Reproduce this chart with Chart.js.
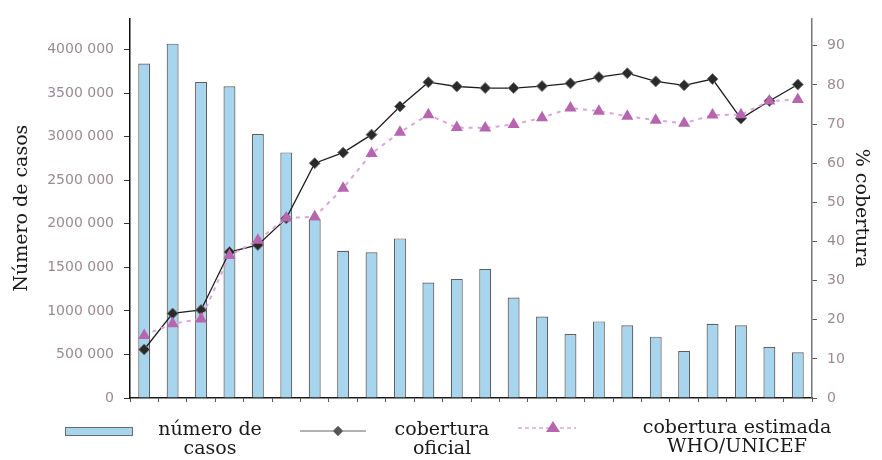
<!DOCTYPE html>
<html>
<head>
<meta charset="utf-8">
<script src="https://cdn.jsdelivr.net/npm/chart.js@4/dist/chart.umd.min.js"></script>
<style>
    body { margin: 0; background: #fff; }
    #wrap { position: relative; width: 882px; height: 460px; }
    .lg-text {
        position: absolute;
        font-family: "DejaVu Serif", serif;
        font-size: 19px;
        line-height: 19px;
        color: #1a1a1a;
        text-align: center;
    }
    .lg-swatch { position: absolute; }
</style>
</head>
<body>
<div id="wrap">
    <canvas id="chart" width="882" height="460"></canvas>

    <div class="lg-swatch" style="left:65px; top:427px; width:66px; height:7px; background:#a8d5ee; border:1px solid #6a6a6a;"></div>
    <div class="lg-text" style="left:135px; top:419px; width:150px;">número de<br>casos</div>

    <svg class="lg-swatch" style="left:298px; top:423px;" width="70" height="16">
        <line x1="2" y1="8" x2="68" y2="8" stroke="#666" stroke-width="1.2"/>
        <polygon points="40,3 45,8 40,13 35,8" fill="#555" stroke="#888" stroke-width="0.8"/>
    </svg>
    <div class="lg-text" style="left:367px; top:419px; width:150px;">cobertura<br>oficial</div>

    <svg class="lg-swatch" style="left:516px; top:419px;" width="62" height="16">
        <line x1="2" y1="9" x2="60" y2="9" stroke="#dca6d6" stroke-width="1.5" stroke-dasharray="4,3"/>
        <polygon points="37,2 44,13 30,13" fill="#b665ae"/>
    </svg>
    <div class="lg-text" style="left:627px; top:417px; width:220px;">cobertura estimada<br>WHO/UNICEF</div>
</div>

<script>
// years 1980 - 2003 (labels not shown in the figure)
const years = ['1980', '1981', '1982', '1983', '1984', '1985', '1986', '1987', '1988', '1989', '1990', '1991',
               '1992', '1993', '1994', '1995', '1996', '1997', '1998', '1999', '2000', '2001', '2002', '2003'];

// número de casos
const casos = [3840000, 4067000, 3628000, 3579000, 3031000, 2819000, 2050000, 1690000, 1672000, 1832000, 1326000, 1367000,
               1482000, 1154000, 935000, 734000, 879000, 834000, 704000, 540000, 853000, 834000, 584000, 525000];

// cobertura oficial (%)
const coberturaOficial = [12.4, 21.6, 22.5, 37.3, 39.1, 45.9, 60.0, 62.7, 67.3, 74.5, 80.7, 79.6,
                          79.2, 79.2, 79.7, 80.4, 82.0, 83.0, 80.9, 79.9, 81.5, 71.4, 75.9, 80.1];

// cobertura estimada WHO/UNICEF (%)
const coberturaEstimada = [16.0, 19.0, 20.2, 36.4, 40.3, 46.0, 46.3, 53.6, 62.5, 67.9, 72.4, 69.1,
                           69.0, 69.9, 71.6, 74.1, 73.3, 72.0, 71.0, 70.2, 72.3, 72.4, 75.9, 76.3];

const casosTicks = [0, 500000, 1000000, 1500000, 2000000, 2500000, 3000000, 3500000, 4000000];
const coberturaTicks = [0, 10, 20, 30, 40, 50, 60, 70, 80, 90];

const tickFont = { family: '"DejaVu Sans", sans-serif', size: 14 };
const tickColor = '#9c8a93';

function formatCasos(v) {
    if (v === 0) return '0';
    return (v / 1000) + ' 000';
}

const ctx = document.getElementById('chart').getContext('2d');

new Chart(ctx, {
    type: 'bar',
    data: {
        labels: years,
        datasets: [
            {
                type: 'line',
                label: 'cobertura oficial',
                data: coberturaOficial,
                yAxisID: 'y1',
                borderColor: '#1e1e1e',
                borderWidth: 1.3,
                pointStyle: 'rectRot',
                pointRadius: 5.5,
                pointBackgroundColor: '#2a2a2a',
                pointBorderColor: '#7a7a7a',
                pointBorderWidth: 1,
                tension: 0,
                order: 1
            },
            {
                type: 'line',
                label: 'cobertura estimada WHO/UNICEF',
                data: coberturaEstimada,
                yAxisID: 'y1',
                borderColor: '#dca6d6',
                borderWidth: 2,
                borderDash: [4, 5],
                pointStyle: 'triangle',
                pointRadius: 7,
                pointBackgroundColor: '#b665ae',
                pointBorderColor: '#b665ae',
                pointBorderWidth: 0,
                tension: 0,
                order: 0
            },
            {
                label: 'número de casos',
                data: casos,
                yAxisID: 'y',
                backgroundColor: '#a8d5ee',
                borderColor: '#5e5e5e',
                borderWidth: 1.2,
                barPercentage: 0.42,
                categoryPercentage: 1.0,
                order: 2
            }
        ]
    },
    options: {
        responsive: false,
        animation: false,
        devicePixelRatio: 1,
        layout: { padding: { top: 8, left: 0, right: 0, bottom: 0 } },
        plugins: {
            legend: { display: false },
            tooltip: { enabled: false }
        },
        scales: {
            x: {
                offset: true,
                ticks: { display: false },
                grid: { display: true, drawOnChartArea: false, offset: true, tickLength: 4, color: '#555' },
                border: { display: true, color: '#1a1a1a', width: 1.5 },
                afterFit: (scale) => { scale.height = 62; }
            },
            y: {
                position: 'left',
                min: 0,
                max: 4357000,
                afterBuildTicks: (scale) => {
                    scale.ticks = casosTicks.map(v => ({ value: v }));
                },
                ticks: {
                    color: tickColor,
                    font: tickFont,
                    padding: 10,
                    callback: (v) => formatCasos(v)
                },
                grid: { display: true, drawOnChartArea: false, tickLength: 6, color: '#333' },
                border: { display: true, color: '#111', width: 1.5 },
                title: {
                    display: true,
                    text: 'Número de casos',
                    color: '#1a1a1a',
                    font: { family: '"DejaVu Serif", serif', size: 19 },
                    padding: { top: 11, bottom: 0 }
                },
                afterFit: (scale) => { scale.width = 130; }
            },
            y1: {
                position: 'right',
                min: 0,
                max: 97,
                afterBuildTicks: (scale) => {
                    scale.ticks = coberturaTicks.map(v => ({ value: v }));
                },
                ticks: {
                    color: tickColor,
                    font: tickFont,
                    padding: 10
                },
                grid: { display: true, drawOnChartArea: false, tickLength: 5, color: '#555' },
                border: { display: true, color: '#777', width: 1.5 },
                title: {
                    display: true,
                    text: '% cobertura',
                    color: '#1a1a1a',
                    font: { family: '"DejaVu Serif", serif', size: 19 },
                    padding: { top: 10, bottom: 0 }
                },
                afterFit: (scale) => { scale.width = 70; }
            }
        }
    }
});
</script>
</body>
</html>
